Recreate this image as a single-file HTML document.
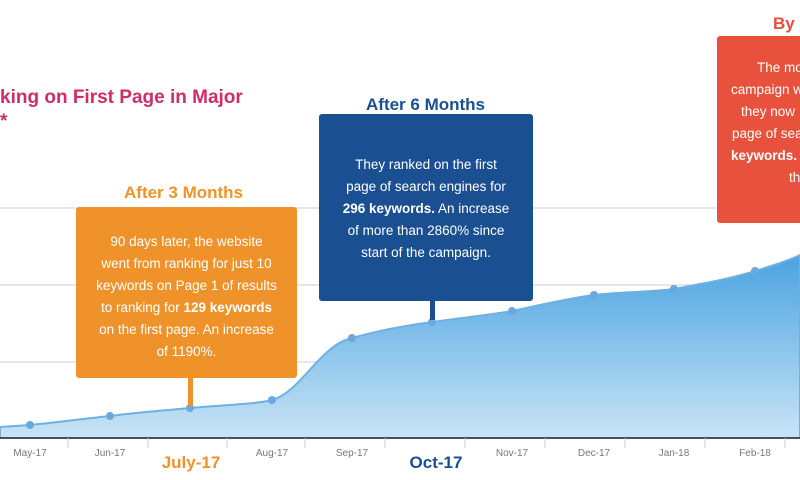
<!DOCTYPE html>
<html><head><style>
body{margin:0;width:800px;height:480px;overflow:hidden;background:#fff;font-family:"Liberation Sans",sans-serif;position:relative}
.box{position:absolute;color:#fff;text-align:center;font-size:13.5px;line-height:22px;border-radius:3px;box-sizing:border-box}
.h{position:absolute;font-weight:bold;font-size:17px}
.t{font-size:10px;fill:#777}
.r{position:absolute;color:#fff;font-size:13.5px;white-space:nowrap}
</style></head><body>
<svg width="800" height="480" style="position:absolute;left:0;top:0">
<defs><linearGradient id="g" x1="0" y1="0" x2="0" y2="1"><stop offset="0" stop-color="#4aa3e0"/><stop offset="1" stop-color="#c9e4f6"/></linearGradient></defs>
<line x1="0" y1="208" x2="800" y2="208" stroke="#ccc"/>
<line x1="0" y1="285" x2="800" y2="285" stroke="#ccc"/>
<line x1="0" y1="362" x2="800" y2="362" stroke="#ccc"/>
<path d="M0,427 L30,425 C60,422 90,418 110,416 C140,412 170,410 190,408 C220,405 250,405 272,400 C300,393 320,345 352,338 C380,330 410,325 432,322 C460,318 490,315 512,311 C540,305 570,298 594,295 C620,292 650,292 674,289 C700,284 730,279 755,271 C775,265 790,260 800,255 L800,438 L0,438Z" fill="url(#g)" stroke="#6fb0e3" stroke-width="2"/>
<g fill="#6aa9e0"><circle cx="30" cy="425" r="4"/><circle cx="110" cy="416" r="4"/><circle cx="190" cy="408" r="4"/><circle cx="272" cy="400" r="4"/><circle cx="352" cy="338" r="4"/><circle cx="432" cy="322" r="4"/><circle cx="512" cy="311" r="4"/><circle cx="594" cy="295" r="4"/><circle cx="674" cy="289" r="4"/><circle cx="755" cy="271" r="4"/></g>
<line x1="0" y1="438" x2="800" y2="438" stroke="#333" stroke-width="1.5"/>
<g stroke="#ccc"><line x1="68" y1="438" x2="68" y2="448"/><line x1="148" y1="438" x2="148" y2="448"/><line x1="227" y1="438" x2="227" y2="448"/><line x1="305" y1="438" x2="305" y2="448"/><line x1="385" y1="438" x2="385" y2="448"/><line x1="465" y1="438" x2="465" y2="448"/><line x1="545" y1="438" x2="545" y2="448"/><line x1="625" y1="438" x2="625" y2="448"/><line x1="705" y1="438" x2="705" y2="448"/><line x1="785" y1="438" x2="785" y2="448"/></g>
<g class="t" text-anchor="middle"><text x="30" y="456">May-17</text><text x="110" y="456">Jun-17</text><text x="272" y="456">Aug-17</text><text x="352" y="456">Sep-17</text><text x="512" y="456">Nov-17</text><text x="594" y="456">Dec-17</text><text x="674" y="456">Jan-18</text><text x="755" y="456">Feb-18</text></g>
<text x="191" y="468" text-anchor="middle" font-size="17" font-weight="bold" fill="#f0922a">July-17</text>
<text x="436" y="468" text-anchor="middle" font-size="17" font-weight="bold" fill="#1a4f91">Oct-17</text>
<rect x="188" y="376" width="5" height="30" fill="#f0922a"/>
<rect x="430" y="298" width="5" height="22" fill="#1a4f91"/>
</svg>
<div class="h" style="left:0;top:86px;color:#cf2d68;font-size:19px;line-height:24px">king on First Page in Major<br>*</div>
<div class="h" style="left:124px;top:183px;color:#f0922a">After 3 Months</div>
<div class="box" style="left:76px;top:207px;width:221px;height:171px;background:#f0922a;padding-top:24px">90 days later, the website<br>went from ranking for just 10<br>keywords on Page 1 of results<br>to ranking for <b>129 keywords</b><br>on the first page. An increase<br>of 1190%.</div>
<div class="h" style="left:366px;top:95px;color:#1a4f91">After 6 Months</div>
<div class="box" style="left:319px;top:114px;width:214px;height:187px;background:#1a4f91;padding-top:40px">They ranked on the first<br>page of search engines for<br><b>296 keywords.</b> An increase<br>of more than 2860% since<br>start of the campaign.</div>
<div class="h" style="left:773px;top:14px;color:#e2503a">By M</div>
<div class="box" style="left:717px;top:36px;width:90px;height:187px;background:#e8513c"></div>
<div class="r" style="left:757px;top:60px">The mo</div>
<div class="r" style="left:731px;top:82px">campaign w</div>
<div class="r" style="left:741px;top:104px">they now</div>
<div class="r" style="left:732px;top:126px">page of sea</div>
<div class="r" style="left:731px;top:148px"><b>keywords.</b></div>
<div class="r" style="left:789px;top:170px">th</div>
</body></html>
